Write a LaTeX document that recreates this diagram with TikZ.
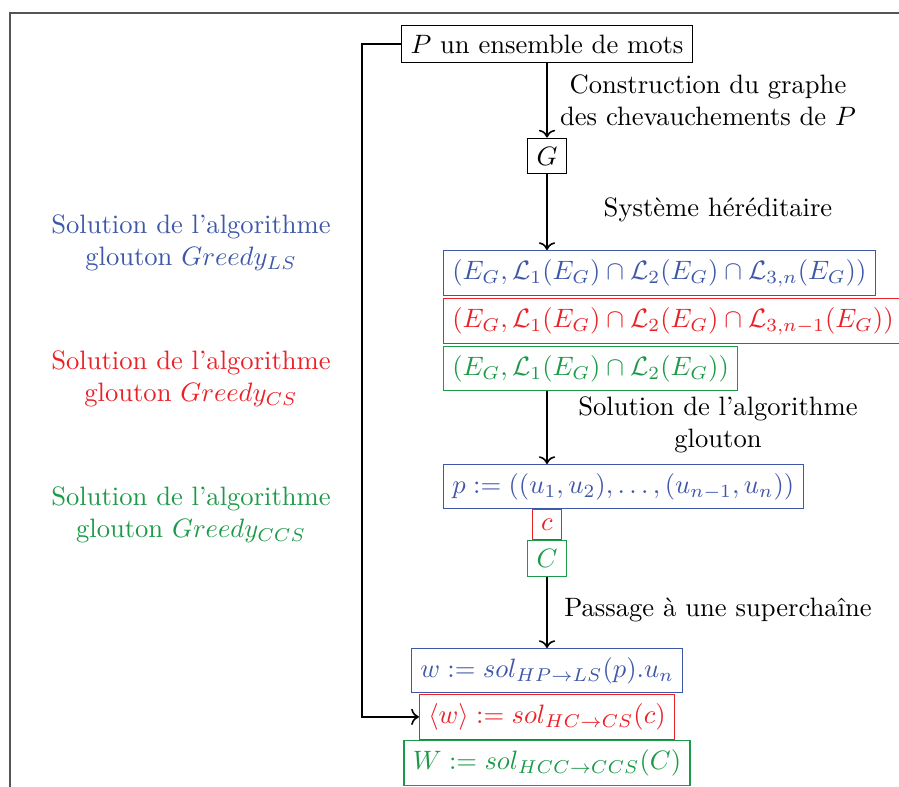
\documentclass[tikz,border=0pt]{standalone}
\usepackage{amsmath}
\usetikzlibrary{arrows.meta,positioning}
\definecolor{lsblue}{HTML}{3F57A8}
\definecolor{csred}{HTML}{EC2027}
\definecolor{ccsgreen}{HTML}{1D9A49}
\definecolor{cadre}{HTML}{555555}
\tikzset{
  box/.style={draw, thin},
  boxls/.style={box, draw=lsblue, text=lsblue},
  boxcs/.style={box, draw=csred, text=csred},
  boxccs/.style={box, draw=ccsgreen, text=ccsgreen},
  arrow/.style={->, semithick},
  etiq/.style={align=center}
}

\begin{document}
\begin{tikzpicture}[x=0.376pt, y=-0.376pt]
    \useasboundingbox (0,0) rectangle (899,787);
    \draw[cadre, thin] (10,900) -- (10,13) -- (1000,13);

    % chaine principale
    \node[box] (mots) at (547,44) {$P$ un ensemble de mots};
    \node[box] (graphe) at (547,156) {$G$};
    \node[boxls, anchor=north west] (herLS) at (443,250)
      {$(E_G,\mathcal{L}_1(E_G)\cap\mathcal{L}_2(E_G)\cap\mathcal{L}_{3,n}(E_G))$};
    \node[boxcs, below=0.6pt of herLS.south west, anchor=north west] (herCS)
      {$(E_G,\mathcal{L}_1(E_G)\cap\mathcal{L}_2(E_G)\cap\mathcal{L}_{3,n-1}(E_G))$};
    \node[boxccs, below=0.6pt of herCS.south west, anchor=north west] (herCCS)
      {$(E_G,\mathcal{L}_1(E_G)\cap\mathcal{L}_2(E_G))$};
    \node[boxls, anchor=north west] (chemin) at (443,464)
      {$p := ((u_1,u_2),\dots,(u_{n-1},u_n))$};
    \node[boxcs, below=0pt of chemin.south -| graphe] (cyc) {$c$};
    \node[boxccs, below=0pt of cyc] (ccyc) {$C$};
    \node[boxls, anchor=north] (supLS) at (547,648) {$w := sol_{HP\to LS}(p).u_n$};
    \node[boxcs, below=0.3pt of supLS] (supCS) {$\langle w\rangle := sol_{HC\to CS}(c)$};
    \node[boxccs, below=0.3pt of supCS] (supCCS) {$W := sol_{HCC\to CCS}(C)$};

    \draw[arrow] (mots.south -| graphe) -- (graphe);
    \draw[arrow] (graphe) -- (herLS.north -| graphe);
    \draw[arrow] (herCCS.south -| graphe) -- (chemin.north -| graphe);
    \draw[arrow] (ccyc) -- (supLS);
    \draw[arrow] (mots.west) -- ++(-39,0) |- (supCS.west);

    % etiquettes des etapes
    \node[etiq] (lconstr) at (708,100) {Construction du graphe\\des chevauchements de $P$};
    \node[etiq] (lher) at (718,210) {Système héréditaire};
    \node[etiq] (lglouton) at (718,425) {Solution de l'algorithme\\glouton};
    \node[etiq] (lsup) at (718,610) {Passage à une superchaîne};

    % legende
    \node[etiq, text=lsblue] (solLS) at (191,243) {Solution de l'algorithme\\glouton $Greedy_{LS}$};
    \node[etiq, text=csred] (solCS) at (191,379) {Solution de l'algorithme\\glouton $Greedy_{CS}$};
    \node[etiq, text=ccsgreen] (solCCS) at (191,515) {Solution de l'algorithme\\glouton $Greedy_{CCS}$};
\end{tikzpicture}
\end{document}
